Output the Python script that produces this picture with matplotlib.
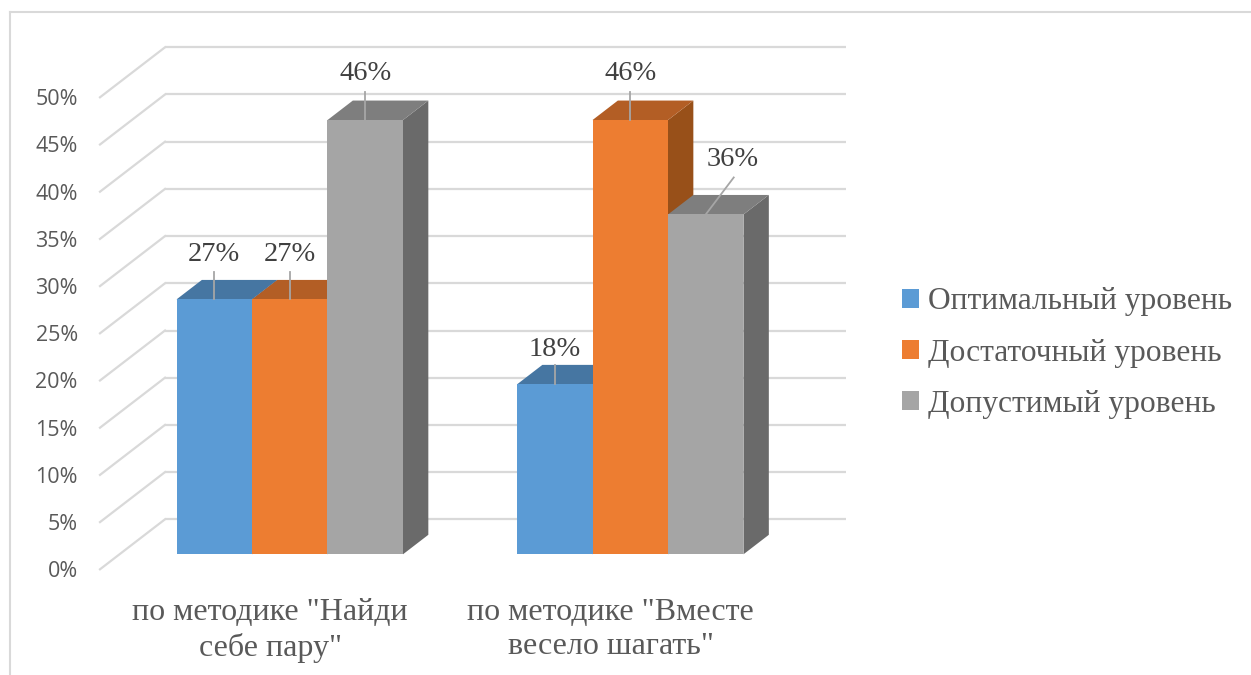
import matplotlib
matplotlib.use("Agg")
import matplotlib.pyplot as plt
from matplotlib.lines import Line2D
from matplotlib.patches import Patch, Polygon

categories = ['по методике "Найди\nсебе пару"', 'по методике "Вместе\nвесело шагать"']
series_names = ["Оптимальный уровень", "Достаточный уровень", "Допустимый уровень"]
optimal = [27, 18]
sufficient = [27, 46]
acceptable = [46, 36]
y_ticks = [0, 5, 10, 15, 20, 25, 30, 35, 40, 45, 50]

front_colors = ["#5B9BD5", "#ED7D31", "#A5A5A5"]
top_colors = ["#4676A2", "#B35E25", "#7E7E7E"]
side_colors = ["#3D6890", "#985019", "#6A6A6A"]
grid_color = "#D9D9D9"
leader_color = "#A6A6A6"

W, H = 1251, 675
fig = plt.figure(figsize=(W / 100, H / 100), dpi=100)
ax = fig.add_axes([100 / W, (H - 569.3) / H, 681 / W, 472 / H])
ax.set_xlim(0, 2)
ax.set_ylim(0, 50)

# the 3d look: depth is a shear in data units
depth_x = 65 / 340.5
depth_y = 50 / 9.44
bar_front = 0.30
bar_back = 0.69
bar_w = 0.2217
centers = [0.5, 1.5]

# walls
for v in y_ticks:
    ax.plot([0, depth_x], [v, v + depth_y], color=grid_color, lw=1.6, clip_on=False, zorder=1)
    ax.plot([depth_x, 2 + depth_x], [v + depth_y, v + depth_y], color=grid_color, lw=1.6,
            clip_on=False, zorder=1, solid_capstyle="butt")

series = [optimal, sufficient, acceptable]
z = 2
for c in range(len(categories)):
    for s, values in enumerate(series):
        v = values[c]
        x0 = centers[c] + (s - 1.5) * bar_w + bar_front * depth_x
        x1 = x0 + bar_w
        y0 = bar_front * depth_y
        dx = (bar_back - bar_front) * depth_x
        dy = (bar_back - bar_front) * depth_y
        ax.add_patch(Polygon([(x1, y0), (x1 + dx, y0 + dy), (x1 + dx, y0 + dy + v), (x1, y0 + v)],
                             fc=side_colors[s], ec="none", clip_on=False, zorder=z))
        ax.add_patch(Polygon([(x0, y0 + v), (x1, y0 + v), (x1 + dx, y0 + dy + v), (x0 + dx, y0 + dy + v)],
                             fc=top_colors[s], ec="none", clip_on=False, zorder=z))
        ax.bar(x0, v, width=bar_w, bottom=y0, align="edge", color=front_colors[s], clip_on=False, zorder=z)
        z += 1

# data labels with leader lines
for c in range(len(categories)):
    for s, values in enumerate(series):
        v = values[c]
        xc = centers[c] + (s - 1) * bar_w + bar_front * depth_x
        yc = bar_front * depth_y + v
        tip = (0, 27)
        text_at = (0, 45)
        if v == 18:
            tip = (0, 19)
            text_at = (0, 35)
        if v == 46:
            tip = (0, 28)
            text_at = (0, 47)
        if v == 36:
            tip = (28, 37)
            text_at = (27, 55)
        ax.plot([xc, xc + tip[0] / 340.5], [yc, yc + tip[1] / 9.44], color=leader_color, lw=1.3,
                clip_on=False, zorder=50)
        ax.annotate(f"{v}%", (xc, yc), xytext=(text_at[0] * 0.72, text_at[1] * 0.72),
                    textcoords="offset points", ha="center", va="center", family="Liberation Serif",
                    fontsize=20.5, color="#404040", zorder=51, annotation_clip=False)

ax.set_yticks(y_ticks)
ax.set_yticklabels([f"{v}%" for v in y_ticks], family="Open Sans", fontsize=15.5, color="#595959")
ax.set_xticks(centers)
ax.set_xticklabels(categories, family="Liberation Serif", fontsize=23, color="#595959", linespacing=1.22)
ax.tick_params(axis="y", length=0, pad=16)
ax.tick_params(axis="x", length=0, pad=21)
for sp in ax.spines.values():
    sp.set_visible(False)
ax.patch.set_alpha(0)

handles = [Patch(fc=c, ec="none") for c in front_colors]
ax.legend(handles, series_names, loc="center left", bbox_to_anchor=(902 / W, (H - 353) / H),
          bbox_transform=fig.transFigure, frameon=False, handlelength=0.54, handleheight=0.54,
          handletextpad=0.27, labelspacing=0.70, borderaxespad=0, borderpad=0,
          prop={"family": "Liberation Serif", "size": 22.7}, labelcolor="#595959")

# outer frame, only top and left are visible in the source
fig.add_artist(Line2D([9.5 / W, 1], [1 - 11.5 / H, 1 - 11.5 / H], color=grid_color, lw=1.5))
fig.add_artist(Line2D([9.5 / W, 9.5 / W], [0, 1 - 11.5 / H], color=grid_color, lw=1.5))

fig.savefig("out.png", dpi=100)
